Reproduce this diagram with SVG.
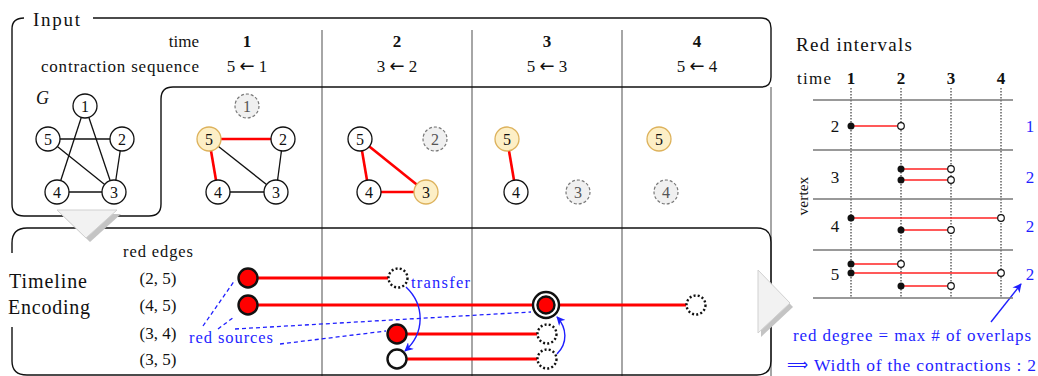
<svg xmlns="http://www.w3.org/2000/svg" width="1038" height="376" viewBox="0 0 1038 376">
<style>
text{font-family:"Liberation Serif","DejaVu Serif",serif;fill:#111}
.lbl{font-size:16px;text-anchor:middle}
.h{font-size:17px;text-anchor:middle}
.hb{font-size:17px;text-anchor:middle;font-weight:bold}
.ar{font-family:"DejaVu Sans",sans-serif;font-size:18px}
.blue{fill:#1f1fff}
.nd{fill:#fff;stroke:#111;stroke-width:1.3}
.yl{fill:#fdefc6;stroke:#ddb25c;stroke-width:1.3}
.gh{fill:#f0f0f0;stroke:#777;stroke-width:1.2;stroke-dasharray:3 2}
.e{stroke:#111;stroke-width:1.3;fill:none}
.re{stroke:#f00;stroke-width:2.6;fill:none}
.grid{stroke:#888;stroke-width:1.5;fill:none}
.frame{stroke:#111;stroke-width:1.4;fill:none}
.tl{stroke:#f00;stroke-width:3;fill:none}
.src{fill:#f00;stroke:#111;stroke-width:2.4}
.dot{fill:#fff;stroke:#111;stroke-width:2.4;stroke-dasharray:2 2.2}
.bd{stroke:#1f1fff;stroke-width:1.3;stroke-dasharray:4 3;fill:none}
.ba{stroke:#1f1fff;stroke-width:1.4;fill:none;marker-end:url(#ah)}
.iv{stroke:#f22;stroke-width:1.5}
.vd{stroke:#111;stroke-width:1;stroke-dasharray:1.5 1.5}
.hl{stroke:#777;stroke-width:1.5}
.fd{fill:#111}
.od{fill:#fff;stroke:#111;stroke-width:1.2}
.tri{fill:#f2f2f2;stroke:#d0d0d0;stroke-width:1}
.trs{fill:#c4c4c4}
</style>
<defs>
<marker id="ah" viewBox="0 0 10 10" refX="9" refY="5" markerWidth="9" markerHeight="9" markerUnits="userSpaceOnUse" orient="auto">
<path d="M0,0 L10,5 L0,10 L3,5 z" fill="#1f1fff"/>
</marker>
</defs>

<!-- grid lines -->
<g id="grid">
<line class="grid" x1="322" y1="30" x2="322" y2="376"/>
<line class="grid" x1="472" y1="30" x2="472" y2="376"/>
<line class="grid" x1="622" y1="30" x2="622" y2="376"/>
<line class="grid" x1="771" y1="87" x2="771" y2="376"/>
</g>

<!-- Input frame -->
<g id="input-frame">
<path class="frame" d="M93 18 L761 18 Q771 18 771 28 L771 77 Q771 87 761 87 L173 87 Q161 87 161 99 L161 204 Q161 216 149 216 L24 216 Q12 216 12 204 L12 29 Q12 18 24 18"/>
<text x="33" y="26" style="font-size:19px" textLength="47">Input</text>
<text x="199" y="47" style="font-size:17px;text-anchor:end">time</text>
<text x="199" y="72" style="font-size:17px;text-anchor:end" textLength="158">contraction sequence</text>
<text class="hb" x="247" y="47">1</text>
<text class="hb" x="397" y="47">2</text>
<text class="hb" x="547" y="47">3</text>
<text class="hb" x="697" y="47">4</text>
<text class="h" x="247" y="72">5 <tspan class="ar">←</tspan> 1</text>
<text class="h" x="397" y="72">3 <tspan class="ar">←</tspan> 2</text>
<text class="h" x="547" y="72">5 <tspan class="ar">←</tspan> 3</text>
<text class="h" x="697" y="72">5 <tspan class="ar">←</tspan> 4</text>
</g>

<!-- G -->
<g id="graph-G">
<text x="36" y="104" style="font-size:18px;font-style:italic">G</text>
<line class="e" x1="85" y1="106" x2="57" y2="192"/>
<line class="e" x1="85" y1="106" x2="114" y2="192"/>
<line class="e" x1="48" y1="139" x2="122" y2="139"/>
<line class="e" x1="48" y1="139" x2="114" y2="192"/>
<line class="e" x1="122" y1="139" x2="114" y2="192"/>
<line class="e" x1="57" y1="192" x2="114" y2="192"/>
<g id="G-node-1"><circle class="nd" cx="85" cy="106" r="12"/><text class="lbl" x="85" y="111.5">1</text></g>
<g id="G-node-5"><circle class="nd" cx="48" cy="139" r="12"/><text class="lbl" x="48" y="144.5">5</text></g>
<g id="G-node-2"><circle class="nd" cx="122" cy="139" r="12"/><text class="lbl" x="122" y="144.5">2</text></g>
<g id="G-node-4"><circle class="nd" cx="57" cy="192" r="12"/><text class="lbl" x="57" y="197.5">4</text></g>
<g id="G-node-3"><circle class="nd" cx="114" cy="192" r="12"/><text class="lbl" x="114" y="197.5">3</text></g>
</g>

<!-- time 1 -->
<g id="graph-t1">
<line class="re" x1="209" y1="139" x2="283" y2="139"/>
<line class="re" x1="209" y1="139" x2="218" y2="192"/>
<line class="e" x1="209" y1="139" x2="276" y2="192"/>
<line class="e" x1="283" y1="139" x2="276" y2="192"/>
<line class="e" x1="218" y1="192" x2="276" y2="192"/>
<g id="t1-node-1"><circle class="gh" cx="247" cy="106" r="12"/><text class="lbl" x="247" y="111.5" style="fill:#555">1</text></g>
<g id="t1-node-5"><circle class="yl" cx="209" cy="139" r="12"/><text class="lbl" x="209" y="144.5">5</text></g>
<g id="t1-node-2"><circle class="nd" cx="283" cy="139" r="12"/><text class="lbl" x="283" y="144.5">2</text></g>
<g id="t1-node-4"><circle class="nd" cx="218" cy="192" r="12"/><text class="lbl" x="218" y="197.5">4</text></g>
<g id="t1-node-3"><circle class="nd" cx="276" cy="192" r="12"/><text class="lbl" x="276" y="197.5">3</text></g>
</g>

<!-- time 2 -->
<g id="graph-t2">
<line class="re" x1="360" y1="139" x2="369" y2="192"/>
<line class="re" x1="360" y1="139" x2="426" y2="192"/>
<line class="re" x1="369" y1="192" x2="426" y2="192"/>
<g id="t2-node-5"><circle class="nd" cx="360" cy="139" r="12"/><text class="lbl" x="360" y="144.5">5</text></g>
<g id="t2-node-2"><circle class="gh" cx="435" cy="139" r="12"/><text class="lbl" x="435" y="144.5" style="fill:#555">2</text></g>
<g id="t2-node-4"><circle class="nd" cx="369" cy="192" r="12"/><text class="lbl" x="369" y="197.5">4</text></g>
<g id="t2-node-3"><circle class="yl" cx="426" cy="192" r="12"/><text class="lbl" x="426" y="197.5">3</text></g>
</g>

<!-- time 3 -->
<g id="graph-t3">
<line class="re" x1="507" y1="139" x2="516" y2="192"/>
<g id="t3-node-5"><circle class="yl" cx="507" cy="139" r="12"/><text class="lbl" x="507" y="144.5">5</text></g>
<g id="t3-node-4"><circle class="nd" cx="516" cy="192" r="12"/><text class="lbl" x="516" y="197.5">4</text></g>
<g id="t3-node-3"><circle class="gh" cx="578" cy="192" r="12"/><text class="lbl" x="578" y="197.5" style="fill:#555">3</text></g>
</g>

<!-- time 4 -->
<g id="graph-t4">
<g id="t4-node-5"><circle class="yl" cx="659" cy="139" r="12"/><text class="lbl" x="659" y="144.5">5</text></g>
<g id="t4-node-4"><circle class="gh" cx="666" cy="192" r="12"/><text class="lbl" x="666" y="197.5" style="fill:#555">4</text></g>
</g>

<!-- Timeline frame -->
<g id="timeline-frame">
<path class="frame" d="M12 253 L12 243 Q12 228 27 228 L757 228 Q771 228 771 242 L771 361 Q771 375 757 375 L27 375 Q12 375 12 361 L12 327"/>
<text x="9" y="288" style="font-size:20px" textLength="78">Timeline</text>
<text x="8" y="314" style="font-size:20px" textLength="82">Encoding</text>
<text x="158" y="257" style="font-size:16.5px;text-anchor:middle" textLength="70">red edges</text>
<text class="h" x="158" y="284">(2, 5)</text>
<text class="h" x="158" y="311">(4, 5)</text>
<text class="h" x="158" y="339">(3, 4)</text>
<text class="h" x="158" y="365">(3, 5)</text>
</g>

<!-- timeline connectors -->
<g id="connectors">
<line class="tl" x1="258" y1="278" x2="388" y2="278"/>
<line class="tl" x1="258" y1="305" x2="686" y2="305"/>
<line class="tl" x1="407" y1="334" x2="537" y2="334"/>
<line class="tl" x1="407" y1="359" x2="537" y2="359"/>
<line class="bd" x1="203" y1="326" x2="235" y2="280"/>
<line class="bd" x1="218" y1="329" x2="234" y2="317"/>
<line class="bd" x1="235" y1="329" x2="531" y2="312"/>
<line class="bd" x1="280" y1="344" x2="386" y2="331"/>
<path class="ba" d="M406 287 C425 305 425 333 405 351"/>
<path class="ba" d="M557 354 C568 343 567 328 557 317"/>
<line class="ba" x1="991" y1="322" x2="1021" y2="284"/>
</g>

<g id="timeline-events">
<g id="ev-25-start"><circle class="src" cx="248" cy="278" r="9.5"/></g>
<g id="ev-25-end"><circle class="dot" cx="398" cy="278" r="9.5"/></g>
<g id="ev-45-start"><circle class="src" cx="248" cy="305" r="9.5"/></g>
<g id="ev-45-mid"><circle cx="546" cy="305" r="13" fill="#fff" stroke="#111" stroke-width="2.4"/><circle class="src" cx="546" cy="305" r="8.5"/></g>
<g id="ev-45-end"><circle class="dot" cx="696" cy="305" r="9.5"/></g>
<g id="ev-34-start"><circle class="src" cx="397" cy="334" r="9.5"/></g>
<g id="ev-34-end"><circle class="dot" cx="547" cy="334" r="9.5"/></g>
<g id="ev-35-start"><circle cx="397" cy="359" r="9.5" fill="#fff" stroke="#111" stroke-width="2.4"/></g>
<g id="ev-35-end"><circle class="dot" cx="547" cy="359" r="9.5"/></g>
<text class="blue" x="189" y="343" style="font-size:16.5px" textLength="84">red sources</text>
<text class="blue" x="411" y="288" style="font-size:16.5px" textLength="59">transfer</text>
</g>

<!-- triangles -->
<g id="arrow-down">
<polygon class="trs" points="61,214 121,214 90,242"/>
<polygon class="tri" points="57,210 117,210 86,238"/>
</g>
<g id="arrow-right">
<polygon class="trs" points="761,274 761,337 793,307"/>
<polygon class="tri" points="758,270 758,333 790,303"/>
</g>

<!-- Red intervals -->
<g id="red-intervals">
<text x="796" y="51" style="font-size:19px" textLength="116">Red intervals</text>
<text x="797" y="84" style="font-size:17px" textLength="34">time</text>
<text class="hb" x="851" y="84">1</text>
<text class="hb" x="901" y="84">2</text>
<text class="hb" x="951" y="84">3</text>
<text class="hb" x="1001" y="84">4</text>
<line class="vd" x1="851" y1="88" x2="851" y2="298"/>
<line class="vd" x1="901" y1="88" x2="901" y2="298"/>
<line class="vd" x1="951" y1="88" x2="951" y2="298"/>
<line class="vd" x1="1001" y1="88" x2="1001" y2="298"/>
<line class="hl" x1="813" y1="100" x2="1013" y2="100"/>
<line class="hl" x1="813" y1="150" x2="1013" y2="150"/>
<line class="hl" x1="813" y1="199" x2="1013" y2="199"/>
<line class="hl" x1="813" y1="250" x2="1013" y2="250"/>
<line class="hl" x1="813" y1="298" x2="1013" y2="298"/>
<text x="808" y="196" transform="rotate(-90 808 196)" style="font-size:15.5px;text-anchor:middle">vertex</text>
<text class="h" x="835" y="132">2</text>
<text class="h" x="835" y="183">3</text>
<text class="h" x="835" y="232">4</text>
<text class="h" x="835" y="280">5</text>
<g id="iv-2">
<line class="iv" x1="851" y1="126" x2="901" y2="126"/><circle class="fd" cx="851" cy="126" r="3.5"/><circle class="od" cx="901" cy="126" r="3.3"/>
</g>
<g id="iv-3">
<line class="iv" x1="901" y1="169" x2="951" y2="169"/><circle class="fd" cx="901" cy="169" r="3.5"/><circle class="od" cx="951" cy="169" r="3.3"/>
<line class="iv" x1="901" y1="180" x2="951" y2="180"/><circle class="fd" cx="901" cy="180" r="3.5"/><circle class="od" cx="951" cy="180" r="3.3"/>
</g>
<g id="iv-4">
<line class="iv" x1="851" y1="218" x2="1001" y2="218"/><circle class="fd" cx="851" cy="218" r="3.5"/><circle class="od" cx="1001" cy="218" r="3.3"/>
<line class="iv" x1="901" y1="230" x2="951" y2="230"/><circle class="fd" cx="901" cy="230" r="3.5"/><circle class="od" cx="951" cy="230" r="3.3"/>
</g>
<g id="iv-5">
<line class="iv" x1="851" y1="264" x2="901" y2="264"/><circle class="fd" cx="851" cy="264" r="3.5"/><circle class="od" cx="901" cy="264" r="3.3"/>
<line class="iv" x1="851" y1="273" x2="1001" y2="273"/><circle class="fd" cx="851" cy="273" r="3.5"/><circle class="od" cx="1001" cy="273" r="3.3"/>
<line class="iv" x1="901" y1="286" x2="951" y2="286"/><circle class="fd" cx="901" cy="286" r="3.5"/><circle class="od" cx="951" cy="286" r="3.3"/>
</g>
<text class="h blue" x="1030" y="132">1</text>
<text class="h blue" x="1030" y="183">2</text>
<text class="h blue" x="1030" y="232">2</text>
<text class="h blue" x="1030" y="280">2</text>
<text class="blue" x="793" y="341" style="font-size:17px" textLength="238">red degree = max # of overlaps</text>
<text class="blue" x="787" y="370" style="font-family:'DejaVu Sans',sans-serif;font-size:16px" textLength="21" lengthAdjust="spacingAndGlyphs">⟹</text>
<text class="blue" x="814" y="371" style="font-size:17.5px" textLength="222">Width of the contractions : 2</text>
</g>
</svg>
